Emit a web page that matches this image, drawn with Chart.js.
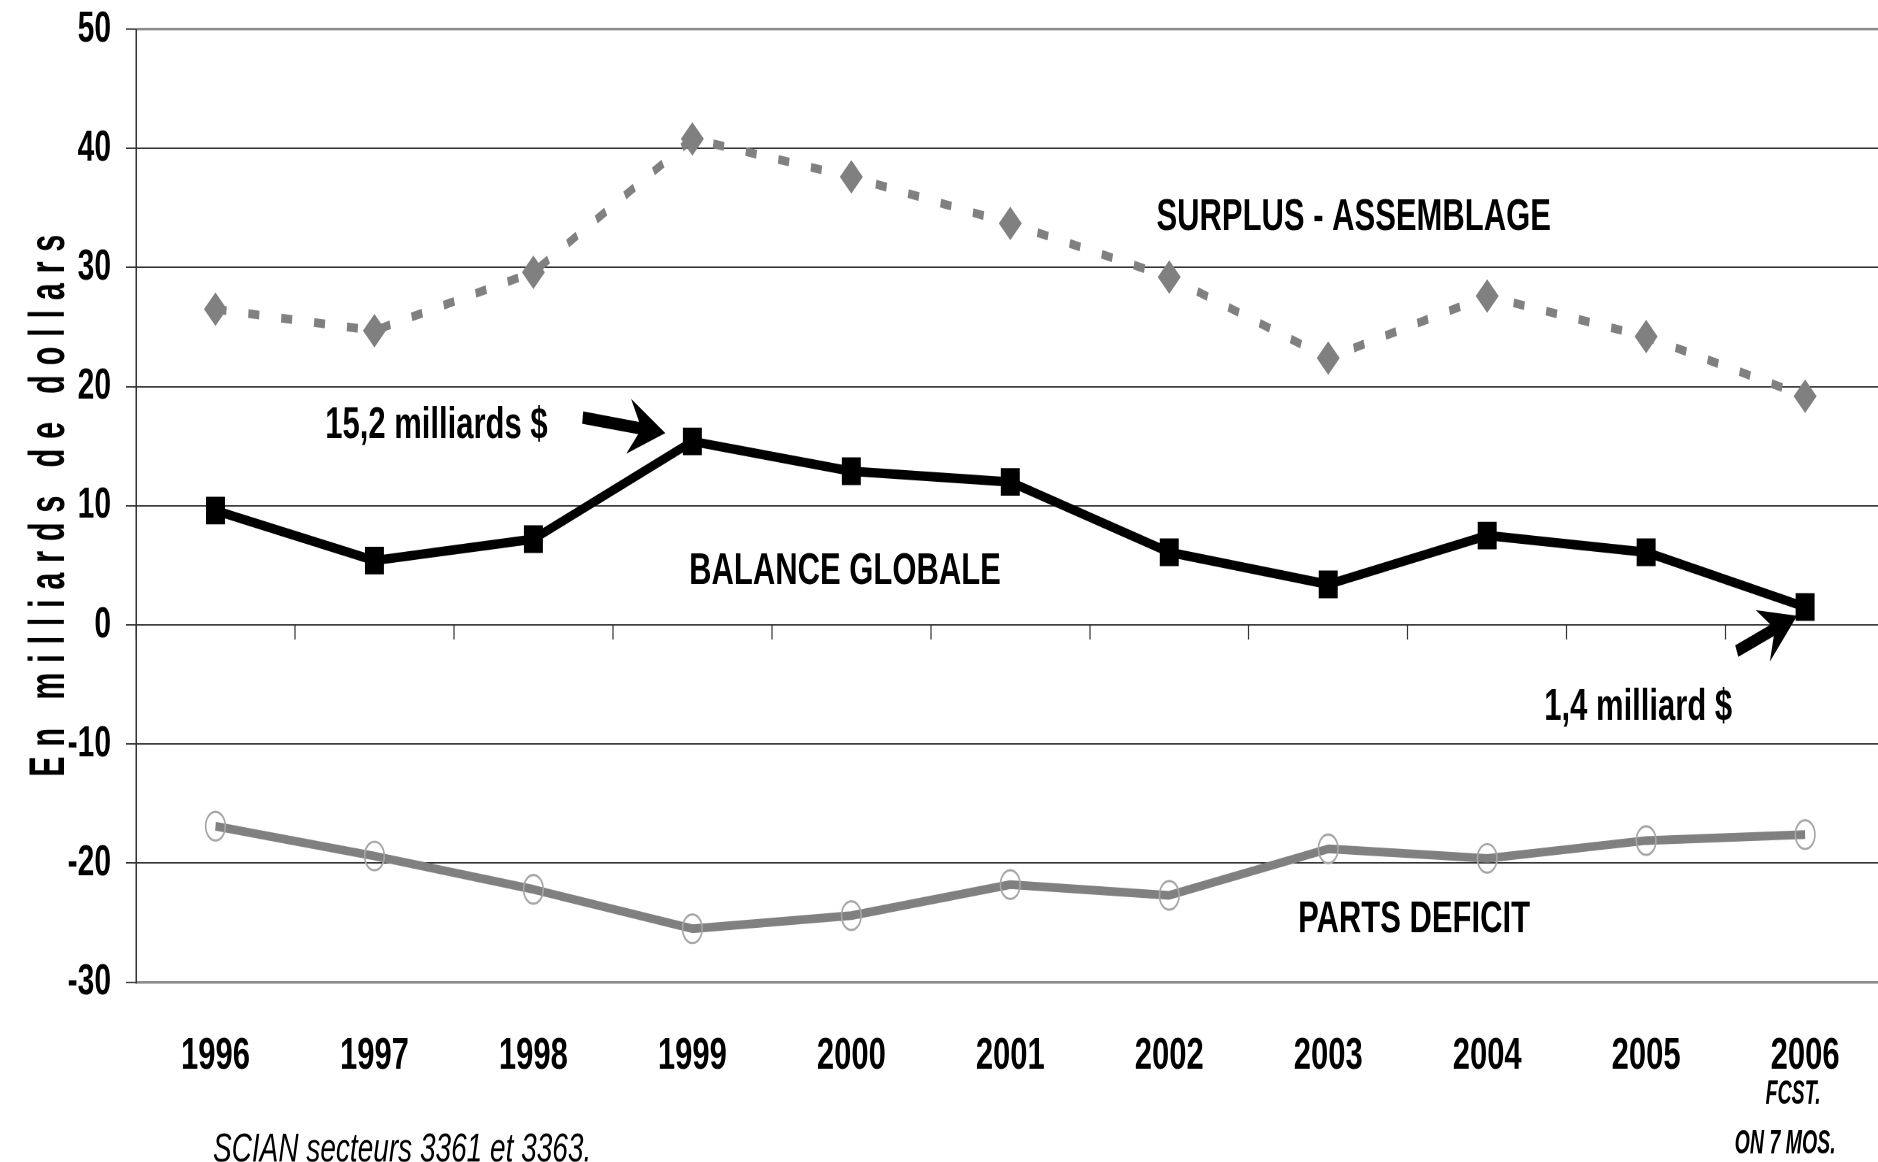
<!DOCTYPE html>
<html>
<head>
<meta charset="utf-8">
<script src="https://cdn.jsdelivr.net/npm/chart.js@4.4.0/dist/chart.umd.min.js"></script>
<style>
  html { overflow: hidden; }
  body { margin: 0; padding: 0; background: #fff; width: 1878px; height: 1162px; }
  /* the source picture is stretched vertically, so draw flat and stretch */
  #wrap { width: 1898px; height: 796px; transform: scaleY(1.46); transform-origin: 0 0; }
</style>
</head>
<body>
<div id="wrap"><canvas id="chart" width="1898" height="796"></canvas></div>
<script>
const years = ['1996', '1997', '1998', '1999', '2000', '2001', '2002', '2003', '2004', '2005', '2006'];
const surplusAssemblage = [26.5, 24.7, 29.6, 40.8, 37.6, 33.7, 29.2, 22.4, 27.6, 24.2, 19.2];
const balanceGlobale = [9.6, 5.4, 7.2, 15.4, 12.9, 12.0, 6.1, 3.4, 7.5, 6.1, 1.5];
const partsDeficit = [-16.9, -19.4, -22.2, -25.5, -24.4, -21.8, -22.7, -18.8, -19.6, -18.1, -17.6];
const yTicks = [-30, -20, -10, 0, 10, 20, 30, 40, 50];

const yTitle = 'En milliards de dollars';
const footnote = 'SCIAN secteurs 3361 et 3363.';
const lastYearNote = ['FCST.', 'ON 7 MOS.'];

// labels placed in data units (category index, value)
const labels = [
  { text: 'SURPLUS - ASSEMBLAGE', x: 7.16, y: 34.5 },
  { text: 'BALANCE GLOBALE', x: 3.96, y: 4.8 },
  { text: 'PARTS DEFICIT', x: 7.54, y: -24.45 },
  { text: '15,2 milliards $', x: 1.39, y: 17.06 },
  { text: '1,4 milliard $', x: 8.95, y: -6.64 }
];
const arrows = [
  { from: [2.31, 17.4], to: [2.83, 16.1] },
  { from: [9.57, -2.2], to: [9.95, 0.76] }
];

const FONT = "'Liberation Sans', Arial, sans-serif";
Chart.defaults.font.family = FONT;
Chart.defaults.color = '#000';

function drawArrow(ctx, x1, y1, x2, y2) {
  const dx = x2 - x1, dy = y2 - y1, len = Math.hypot(dx, dy);
  const ux = dx / len, uy = dy / len, nx = -uy, ny = ux;
  const L = 37, W = 19, notch = 13;
  const bx = x2 - ux * (L - notch), by = y2 - uy * (L - notch);
  ctx.beginPath();
  ctx.moveTo(x1, y1);
  ctx.lineTo(bx + ux * 2, by + uy * 2);
  ctx.lineWidth = 8.5;
  ctx.lineCap = 'butt';
  ctx.strokeStyle = '#000';
  ctx.stroke();
  ctx.beginPath();
  ctx.moveTo(x2, y2);
  ctx.lineTo(x2 - ux * L + nx * W, y2 - uy * L + ny * W);
  ctx.lineTo(bx, by);
  ctx.lineTo(x2 - ux * L - nx * W, y2 - uy * L - ny * W);
  ctx.closePath();
  ctx.fillStyle = '#000';
  ctx.fill();
}

const notesPlugin = {
  id: 'notes',
  afterDatasetsDraw(chart) {
    const ctx = chart.ctx, xs = chart.scales.x, ys = chart.scales.y;
    ctx.save();
    ctx.fillStyle = '#000';
    ctx.font = 'bold 31px ' + FONT;
    ctx.textAlign = 'center';
    ctx.textBaseline = 'alphabetic';
    labels.forEach(l => {
      ctx.fillText(l.text, xs.getPixelForValue(l.x), ys.getPixelForValue(l.y) + 11);
    });
    arrows.forEach(a => {
      drawArrow(ctx,
        xs.getPixelForValue(a.from[0]), ys.getPixelForValue(a.from[1]),
        xs.getPixelForValue(a.to[0]), ys.getPixelForValue(a.to[1]));
    });
    ctx.restore();
  },
  afterDraw(chart) {
    const ctx = chart.ctx, xs = chart.scales.x, area = chart.chartArea;
    ctx.save();
    ctx.fillStyle = '#000';
    // footnote
    ctx.font = 'italic 28px ' + FONT;
    ctx.textAlign = 'left';
    ctx.fillText(footnote, 213, 795.5);
    // forecast note under the last year
    const lx = xs.getPixelForValue(years.length - 1);
    ctx.font = 'bold italic 23px ' + FONT;
    ctx.textAlign = 'center';
    ctx.save();
    ctx.translate(lx - 12, 0);
    ctx.scale(0.85, 1);
    ctx.fillText(lastYearNote[0], 0, 756);
    ctx.restore();
    ctx.save();
    ctx.translate(lx - 20, 0);
    ctx.scale(0.85, 1);
    ctx.fillText(lastYearNote[1], 0, 790);
    ctx.restore();
    // rotated axis title, spaced letters
    ctx.font = 'bold 50px ' + FONT;
    ctx.letterSpacing = '16px';
    const w = ctx.measureText(yTitle).width;
    ctx.translate(50, (area.top + area.bottom) / 2);
    ctx.rotate(-Math.PI / 2);
    ctx.scale(378 / w, 1);
    ctx.textBaseline = 'middle';
    ctx.fillText(yTitle, 8, 0);
    ctx.restore();
  }
};

const edge = v => v === yTicks[0] || v === yTicks[yTicks.length - 1];

new Chart(document.getElementById('chart'), {
  type: 'line',
  data: {
    labels: years,
    datasets: [
      {
        label: 'BALANCE GLOBALE',
        data: balanceGlobale,
        borderColor: '#000',
        borderWidth: 6.5,
        borderJoinStyle: 'round',
        pointStyle: 'rect',
        pointRadius: 13.4,
        pointBackgroundColor: '#000',
        pointBorderColor: '#000',
        pointBorderWidth: 0,
        tension: 0
      },
      {
        label: 'SURPLUS - ASSEMBLAGE',
        data: surplusAssemblage,
        borderColor: '#808080',
        borderWidth: 6,
        borderDash: [11, 22],
        borderCapStyle: 'butt',
        pointStyle: 'rectRot',
        pointRadius: 11.5,
        pointBackgroundColor: '#808080',
        pointBorderColor: '#808080',
        pointBorderWidth: 0,
        tension: 0
      },
      {
        label: 'PARTS DEFICIT',
        data: partsDeficit,
        borderColor: '#808080',
        borderWidth: 6,
        borderJoinStyle: 'round',
        pointStyle: 'circle',
        pointRadius: 9.8,
        pointBackgroundColor: 'rgba(0,0,0,0)',
        pointBorderColor: '#a6a6a6',
        pointBorderWidth: 1.6,
        tension: 0
      }
    ]
  },
  options: {
    responsive: false,
    animation: false,
    devicePixelRatio: 2,
    layout: { padding: { left: 66, right: 0, top: 20, bottom: 22 } },
    plugins: { legend: { display: false }, tooltip: { enabled: false } },
    scales: {
      x: {
        type: 'category',
        offset: true,
        grid: { display: false, drawTicks: false },
        border: { display: false },
        ticks: { font: { size: 31, weight: 'bold' }, color: '#000', padding: 32, maxRotation: 0 }
      },
      xz: {
        type: 'category',
        position: { y: 0 },
        offset: true,
        grid: { offset: true, drawOnChartArea: false, drawTicks: true, tickLength: 10, color: '#333', tickWidth: 1.2 },
        border: { display: false },
        ticks: { display: false }
      },
      y: {
        min: yTicks[0],
        max: yTicks[yTicks.length - 1],
        afterFit: s => { s.width = 70; s.paddingTop = 0; s.paddingBottom = 0; },
        afterBuildTicks: s => { s.ticks = yTicks.map(v => ({ value: v })); },
        ticks: { font: { size: 30, weight: 'bold' }, color: '#000', padding: 15 },
        grid: {
          tickLength: 10,
          color: c => edge(c.tick.value) ? '#8c8c8c' : '#333',
          lineWidth: c => edge(c.tick.value) ? 1.8 : 0.9,
          tickColor: '#333',
          tickWidth: 1
        },
        border: { display: true, color: '#333', width: 1.5 }
      }
    }
  },
  plugins: [notesPlugin]
});
</script>
</body>
</html>
